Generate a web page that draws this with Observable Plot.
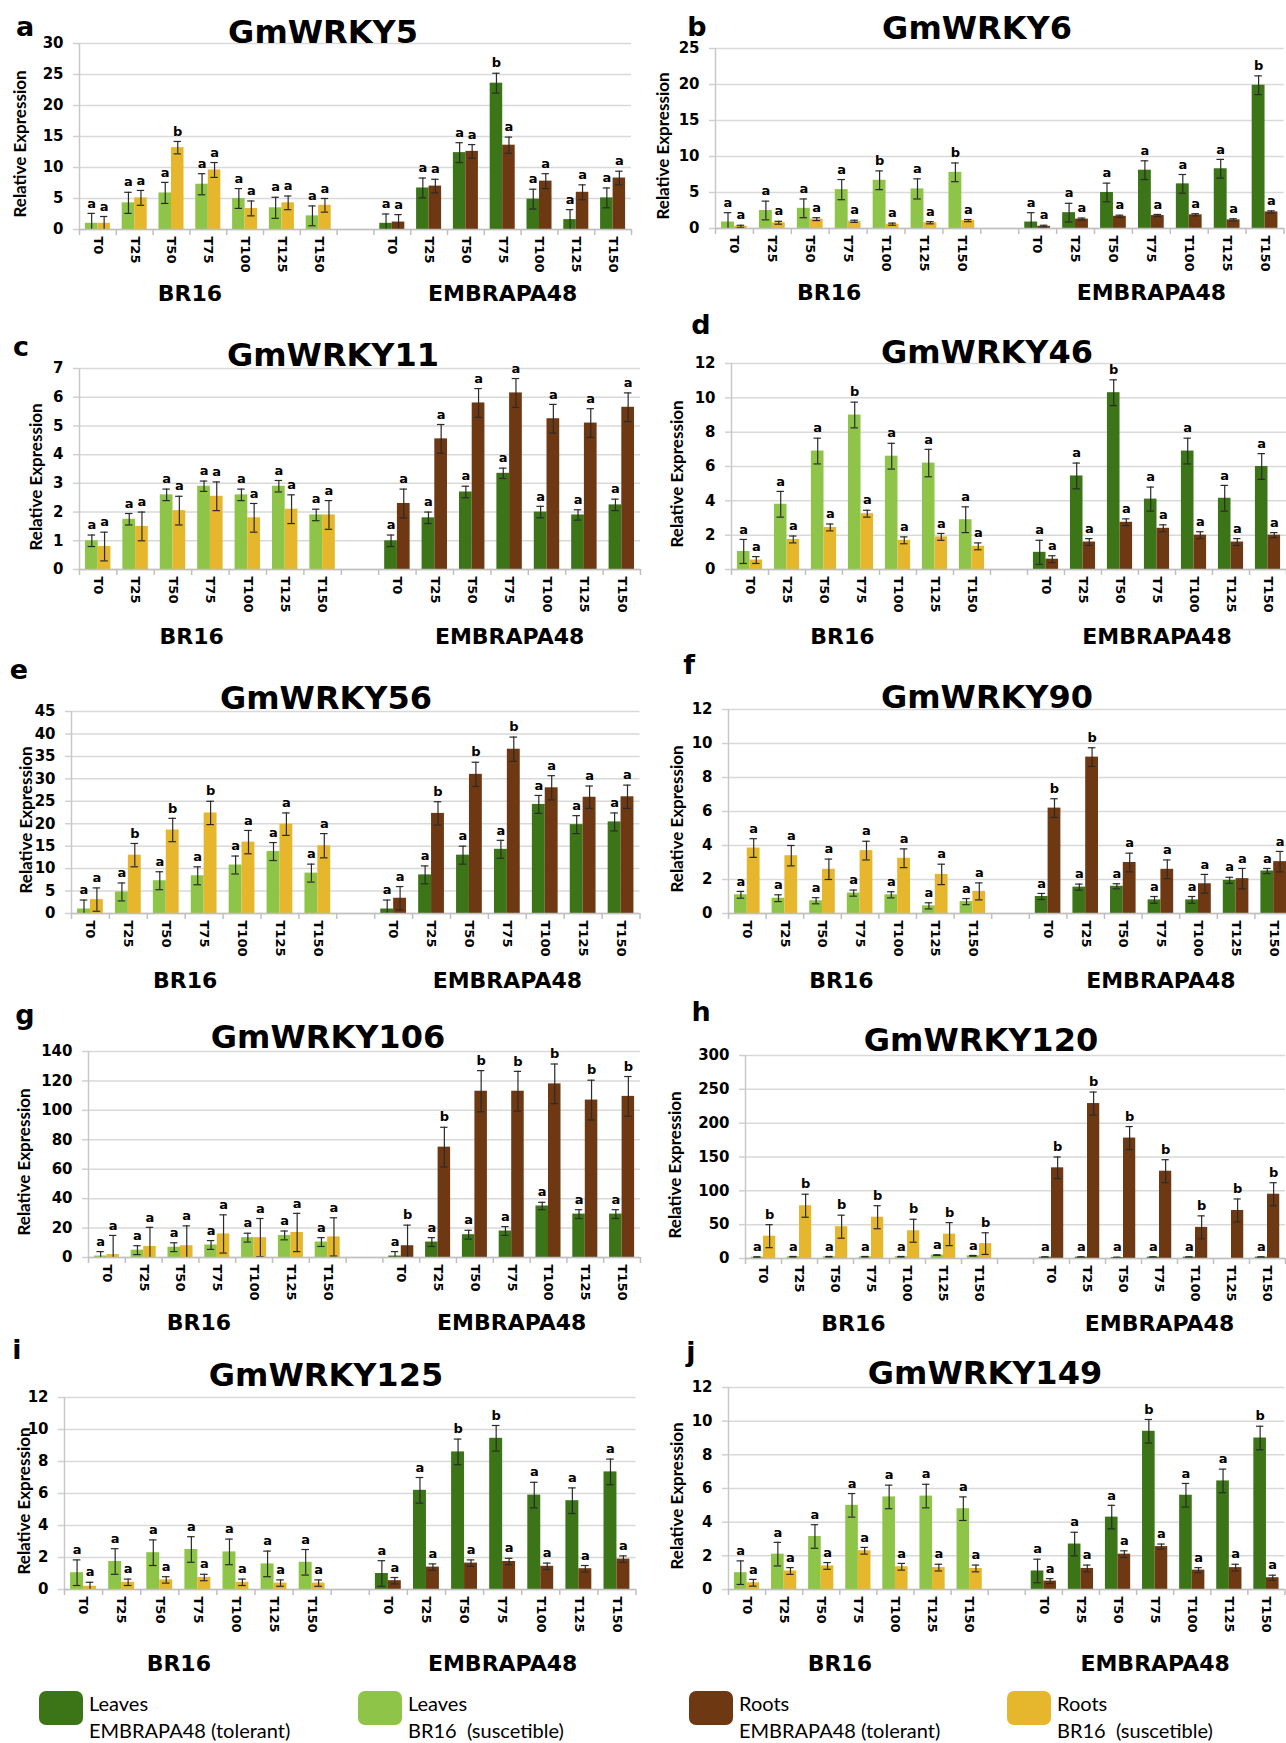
<!DOCTYPE html>
<html><head><meta charset="utf-8">
<script src="https://cdn.jsdelivr.net/npm/d3@7"></script>
<script src="https://cdn.jsdelivr.net/npm/@observablehq/plot@0.6"></script>
<style>
body{margin:0;background:#fff;}
#fig{position:relative;width:1286px;height:1743px;overflow:hidden;font-family:"DejaVu Sans",sans-serif;background:#fff;}
.abs{position:absolute;white-space:pre;color:#000;}
.letter{font-family:"DejaVu Sans",sans-serif;font-weight:bold;font-size:27px;transform:translate(-50%,-50%);line-height:0.8;}
.title{font-family:"DejaVu Sans",sans-serif;font-weight:bold;font-size:32px;transform:translate(-50%,-50%);line-height:1;}
.ylab{font-family:Lato,sans-serif;font-weight:bold;font-size:17px;transform:translate(-50%,-50%) rotate(-90deg);line-height:1;}
.panel{position:absolute;}
.panel svg{max-width:none !important;}
.sw{position:absolute;width:44px;height:34px;border-radius:7px;}
.leg{font-family:Lato,sans-serif;font-size:20px;line-height:1;}
</style></head><body><div id="fig"></div>
<script>
// ---------------- data ----------------
const genes = ["GmWRKY5","GmWRKY6","GmWRKY11","GmWRKY46","GmWRKY56","GmWRKY90","GmWRKY106","GmWRKY120","GmWRKY125","GmWRKY149"];
const panelLetters = ["a","b","c","d","e","f","g","h","i","j"];
const times = ["T0","T25","T50","T75","T100","T125","T150"];
const groupNames = ["BR16","EMBRAPA48"];
const yMax = [30,25,7,12,45,12,140,300,12,12];
const yStep = [5,5,1,2,5,2,20,50,2,2];

// Leaves BR16 (susceptible)
const leafBR = [
  [1.0,4.3,5.9,7.3,5.0,3.5,2.2],
  [0.9,2.5,2.8,5.4,6.7,5.5,7.8],
  [1.0,1.75,2.6,2.9,2.6,2.9,1.9],
  [1.05,3.8,6.9,9.0,6.6,6.2,2.9],
  [1.0,4.8,7.3,8.4,10.8,13.8,9.0],
  [1.1,0.9,0.75,1.2,1.1,0.45,0.7],
  [1.0,5.0,7.0,8.5,13.5,15.0,10.5],
  [2,2.5,2.5,2.5,2.5,5,4],
  [1.05,1.75,2.3,2.5,2.35,1.6,1.7],
  [1.0,2.1,3.15,5.0,5.5,5.55,4.8]
];
const leafBRErr = [
  [1.6,1.7,1.7,1.7,1.6,1.7,1.6],
  [1.3,1.3,1.3,1.4,1.3,1.4,1.3],
  [0.2,0.2,0.2,0.18,0.2,0.2,0.2],
  [0.7,0.75,0.75,0.75,0.75,0.8,0.75],
  [2,2,2,2,2,2,2],
  [0.2,0.2,0.18,0.18,0.18,0.18,0.18],
  [3,3,3,3,3,3,3],
  [0.5,0.5,0.5,0.5,0.5,0.5,0.5],
  [0.8,0.8,0.8,0.8,0.8,0.8,0.8],
  [0.7,0.7,0.7,0.7,0.7,0.7,0.7]
];
// Roots BR16 (susceptible)
const rootBR = [
  [1.0,5.1,13.2,9.6,3.4,4.3,3.9],
  [0.3,0.8,1.3,1.0,0.6,0.8,1.1],
  [0.8,1.5,2.05,2.55,1.8,2.1,1.9],
  [0.55,1.75,2.45,3.25,1.7,1.9,1.35],
  [3.1,13.0,18.6,22.4,15.9,19.9,15.1],
  [3.85,3.4,2.6,3.7,3.25,2.3,1.3],
  [2,7.5,8,16,13.5,17,14],
  [33,78,47,61,41,36,22],
  [0.2,0.45,0.6,0.75,0.45,0.4,0.4],
  [0.4,1.1,1.4,2.3,1.35,1.3,1.25]
];
const rootBRErr = [
  [1.1,1.2,1.0,1.2,1.2,1.1,1.1],
  [0.15,0.2,0.2,0.15,0.15,0.15,0.15],
  [0.5,0.5,0.5,0.5,0.5,0.5,0.5],
  [0.2,0.2,0.2,0.2,0.2,0.2,0.2],
  [2.6,2.6,2.6,2.6,2.6,2.5,2.7],
  [0.55,0.6,0.6,0.55,0.55,0.6,0.5],
  [13,13,13.5,13,13,13,13],
  [17,17,17,17,17,17,16],
  [0.25,0.2,0.2,0.2,0.2,0.2,0.2],
  [0.2,0.2,0.2,0.2,0.2,0.2,0.2]
];
// Leaves EMBRAPA48 (tolerant)
const leafEM = [
  [1.0,6.7,12.4,23.6,4.9,1.6,5.1],
  [0.9,2.2,5.0,8.1,6.2,8.3,19.9],
  [1.0,1.8,2.7,3.35,2.0,1.9,2.25],
  [1.0,5.45,10.3,4.1,6.9,4.15,6.0],
  [1.0,8.6,13.0,14.3,24.3,19.8,20.4],
  [1.0,1.55,1.6,0.8,0.8,1.95,2.5],
  [1,10.5,15.5,18,35,29.5,29.5],
  [2,2,1.5,2,2,0,2],
  [1.0,6.2,8.6,9.45,5.9,5.55,7.35],
  [1.1,2.7,4.3,9.4,5.6,6.45,9.0]
];
const leafEMErr = [
  [1.5,1.6,1.6,1.6,1.6,1.6,1.6],
  [1.3,1.3,1.3,1.3,1.3,1.3,1.3],
  [0.2,0.2,0.2,0.18,0.2,0.18,0.2],
  [0.7,0.75,0.75,0.7,0.75,0.75,0.75],
  [2,2,2,2,2,2,2],
  [0.18,0.18,0.15,0.2,0.2,0.18,0.15],
  [3,3,3,3,2.5,3,3],
  [0.5,0.5,0.5,0.5,0.5,0,0.5],
  [0.8,0.8,0.8,0.8,0.8,0.8,0.8],
  [0.7,0.7,0.7,0.7,0.7,0.7,0.7]
];
// Roots EMBRAPA48 (tolerant)
const rootEM = [
  [1.2,7.0,12.6,13.6,7.8,6.0,8.3],
  [0.3,1.3,1.7,1.8,1.9,1.2,2.3],
  [2.3,4.55,5.8,6.15,5.25,5.1,5.65],
  [0.6,1.6,2.75,2.4,2.0,1.6,2.0],
  [3.4,22.3,31.0,36.6,28.0,25.9,26.0],
  [6.2,9.2,3.0,2.6,1.75,2.05,3.05],
  [8,75,113,113,118,107,109.5],
  [134,229,178,129,46,71,95],
  [0.55,1.4,1.65,1.75,1.45,1.3,1.9],
  [0.5,1.25,2.1,2.55,1.15,1.3,0.7]
];
const rootEMErr = [
  [1.2,1.1,1.1,1.3,1.2,1.2,1.1],
  [0.15,0.15,0.15,0.15,0.15,0.15,0.15],
  [0.5,0.5,0.5,0.5,0.5,0.5,0.5],
  [0.2,0.2,0.2,0.2,0.2,0.2,0.15],
  [2.6,2.6,2.7,2.7,2.7,2.5,2.6],
  [0.55,0.55,0.55,0.55,0.55,0.6,0.6],
  [14,13.5,14,13.5,13.5,13.5,13.5],
  [16,17,17,17,17,17,17],
  [0.2,0.2,0.2,0.2,0.2,0.2,0.2],
  [0.15,0.2,0.2,0.15,0.15,0.2,0.15]
];
// significance letters ("-" = none)
const leafBRSig = ["aaaaaaa","aaaabab","aaaaaaa","aaabaaa","aaaaaaa","aaaaaaa","aaaaaaa","aaaaaaa","aaaaaaa","aaaaaaa"];
const rootBRSig = ["aabaaaa","aaaaaaa","aaaaaaa","aaaaaaa","abbbaaa","aaaaaaa","aaaaaaa","bbbbbbb","aaaaaaa","aaaaaaa"];
const leafEMSig = ["aaabaaa","aaaaaab","aaaaaaa","aabaaaa","aaaaaaa","aaaaaaa","aaaaaaa","aaaaa-a","aabbaaa","aaabaab"];
const rootEMSig = ["aaaaaaa","aaaaaaa","aaaaaaa","aaaaaaa","abbbaaa","bbaaaaa","bbbbbbb","bbbbbbb","aaaaaaa","aaaaaaa"];

const seriesKeys = ["leafEM","leafBR","rootEM","rootBR"];
const legendLine1 = ["Leaves","Leaves","Roots","Roots"];
const legendLine2 = ["EMBRAPA48 (tolerant)","BR16  (suscetible)","EMBRAPA48 (tolerant)","BR16  (suscetible)"];

// ---------------- styles / layout ----------------
const seriesColors = ["#3b7518","#8ec549","#6e3912","#e6b62c"];
const layout = [
 {left:0,   axisX:79,  catW:36.8, yTop:43,   yZero:229,  tx:323, ty:32,   lx:25,  ly:27,   yl:19,  gdy:71},
 {left:643, axisX:715, catW:37.9, yTop:48,   yZero:228,  tx:977, ty:28,   lx:697, ly:27,   yl:662, gdy:71},
 {left:0,   axisX:79,  catW:37.4, yTop:368,  yZero:569,  tx:333, ty:355,  lx:21,  ly:347,  yl:35,  gdy:74},
 {left:643, axisX:731, catW:37,   yTop:363,  yZero:569,  tx:987, ty:352,  lx:701, ly:325,  yl:676, gdy:74},
 {left:0,   axisX:71,  catW:37.9, yTop:711,  yZero:913,  tx:326, ty:698,  lx:19,  ly:670,  yl:25,  gdy:74},
 {left:643, axisX:728, catW:37.6, yTop:709,  yZero:913,  tx:987, ty:697,  lx:689, ly:665,  yl:676, gdy:74},
 {left:0,   axisX:88,  catW:36.8, yTop:1051, yZero:1257, tx:328, ty:1037, lx:25,  ly:1015, yl:23,  gdy:72},
 {left:643, axisX:745, catW:36,   yTop:1055, yZero:1258, tx:981, ty:1040, lx:701, ly:1012, yl:674, gdy:72},
 {left:0,   axisX:64,  catW:38.1, yTop:1397, yZero:1589, tx:326, ty:1375, lx:17,  ly:1350, yl:23,  gdy:81},
 {left:643, axisX:728, catW:37.1, yTop:1387, yZero:1589, tx:985, ty:1373, lx:691, ly:1352, yl:676, gdy:81}
];
const groupCenters = [2.5, 11];
const barW = 0.34, capHalf = 0.1;

const fig = document.getElementById("fig");
function addDiv(cls, text, x, y) {
  const d = document.createElement("div");
  d.className = "abs " + cls;
  d.textContent = text;
  d.style.left = x + "px"; d.style.top = y + "px";
  fig.appendChild(d);
  return d;
}

function rowsFor(g) {
  const out = [];
  times.forEach((t, i) => {
    out.push({pos:i, side:-1, series:"leafBR", mean:leafBR[g][i], err:leafBRErr[g][i], sig:leafBRSig[g][i]});
    out.push({pos:i, side:1, series:"rootBR", mean:rootBR[g][i], err:rootBRErr[g][i], sig:rootBRSig[g][i]});
    out.push({pos:i+8, side:-1, series:"leafEM", mean:leafEM[g][i], err:leafEMErr[g][i], sig:leafEMSig[g][i]});
    out.push({pos:i+8, side:1, series:"rootEM", mean:rootEM[g][i], err:rootEMErr[g][i], sig:rootEMSig[g][i]});
  });
  return out;
}

const tickPos = [0,1,2,3,4,5,6,8,9,10,11,12,13,14];
const boundaries = d3.range(-0.5, 15, 1);

genes.forEach((gene, g) => {
  const L = layout[g];
  const rows = rowsFor(g);
  const width = L.left === 0 ? 643 : 660;
  const marginLeft = L.axisX - L.left;
  const marginRight = Math.max(0, width - marginLeft - 15 * L.catW);
  const marginTop = 40;
  const marginBottom = L.gdy + 20;
  const height = marginTop + (L.yZero - L.yTop) + marginBottom;
  const yTicks = d3.range(0, yMax[g] + yStep[g] / 2, yStep[g]);
  const center = d => d.pos + d.side * barW / 2;
  const lo = d => Math.max(0, d.mean - d.err);
  const hi = d => d.mean + d.err;
  const withErr = rows.filter(d => d.err > 0);

  const chart = Plot.plot({
    width, height, marginLeft, marginRight, marginTop, marginBottom,
    style: {background: "transparent", fontFamily: "'DejaVu Sans', sans-serif", fontWeight: "bold", fontSize: "14px", color: "#000", overflow: "visible", maxWidth: "none"},
    x: {type: "linear", domain: [-0.5, 14.5], axis: null},
    y: {domain: [0, yMax[g]], axis: null},
    color: {domain: seriesKeys, range: seriesColors},
    marks: [
      Plot.gridY(yTicks, {stroke: "#d9d9d9", strokeOpacity: 1, strokeWidth: 1.5}),
      Plot.ruleX([-0.5], {stroke: "#c8c8c8", strokeWidth: 1.5}),
      Plot.rectY(rows, {x1: d => d.pos + Math.min(0, d.side * barW), x2: d => d.pos + Math.max(0, d.side * barW), y1: 0, y2: "mean", fill: "series"}),
      Plot.ruleX(withErr, {x: center, y1: lo, y2: hi, stroke: "#2a2a2a", strokeWidth: 1.2}),
      Plot.ruleY(withErr, {y: hi, x1: d => center(d) - capHalf, x2: d => center(d) + capHalf, stroke: "#2a2a2a", strokeWidth: 1.2}),
      Plot.ruleY(withErr.filter(d => d.mean - d.err > 0), {y: lo, x1: d => center(d) - capHalf, x2: d => center(d) + capHalf, stroke: "#2a2a2a", strokeWidth: 1.2}),
      Plot.ruleY([0], {stroke: "#bfbfbf", strokeWidth: 1.5}),
      Plot.axisX(boundaries, {tickFormat: () => "", tickSize: 6, stroke: "#bfbfbf", strokeWidth: 1.5, label: null}),
      Plot.axisX(tickPos, {tickFormat: i => times[i % 8], tickRotate: 90, tickSize: 0, tickPadding: 7, fontSize: 13, label: null}),
      Plot.axisY(yTicks, {tickSize: 6, tickPadding: 10, stroke: "#d0d0d0", strokeWidth: 1.5, fontSize: 15, label: null}),
      Plot.text(rows.filter(d => d.sig !== "-"), {x: center, y: hi, text: "sig", dy: -10, fontSize: 13}),
      Plot.text(groupNames, {x: groupCenters, frameAnchor: "bottom", dy: L.gdy, fontSize: 22})
    ]
  });
  const holder = document.createElement("div");
  holder.className = "panel";
  holder.style.left = L.left + "px";
  holder.style.top = (L.yTop - marginTop) + "px";
  holder.style.width = width + "px";
  holder.appendChild(chart);
  fig.appendChild(holder);

  addDiv("ylab", "Relative Expression", L.yl, (L.yTop + L.yZero) / 2 + 8);
  addDiv("letter", panelLetters[g], L.lx, L.ly);
  addDiv("title", gene, L.tx, L.ty);
});

// legend
const legX = [39, 358, 689, 1007];
seriesKeys.forEach((k, i) => {
  const sw = document.createElement("div");
  sw.className = "sw";
  sw.style.left = legX[i] + "px";
  sw.style.top = "1691px";
  sw.style.background = seriesColors[i];
  fig.appendChild(sw);
  addDiv("leg", legendLine1[i], legX[i] + 50, 1693);
  addDiv("leg", legendLine2[i], legX[i] + 50, 1720);
});
</script></body></html>
